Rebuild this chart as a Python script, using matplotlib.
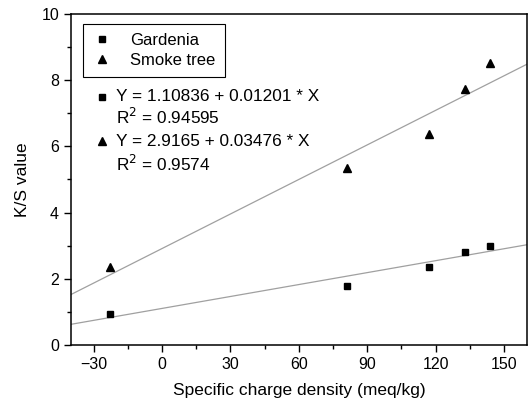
import matplotlib
matplotlib.use('Agg')
import matplotlib.pyplot as plt
import numpy as np
from matplotlib.ticker import MultipleLocator

plt.rcParams['font.family'] = ['Liberation Sans', 'DejaVu Sans']

# data
charge = [-23, 81, 117, 133, 144]
gardenia = [0.94, 1.80, 2.35, 2.81, 2.98]
smoke_tree = [2.37, 5.34, 6.37, 7.73, 8.51]

# fitted lines as given in the chart
fit_g = (1.10836, 0.01201, 0.94595)
fit_s = (2.9165, 0.03476, 0.9574)

fig = plt.figure(figsize=(5.29, 4.07), dpi=100)
ax = fig.add_axes([0.134, 0.152, 0.862, 0.814])

xx = np.array([-40, 160])
ax.plot(xx, fit_g[0] + fit_g[1] * xx, color='#a0a0a0', lw=0.9)
ax.plot(xx, fit_s[0] + fit_s[1] * xx, color='#a0a0a0', lw=0.9)
g, = ax.plot(charge, gardenia, 's', color='black', ms=4.8, label='Gardenia')
s, = ax.plot(charge, smoke_tree, '^', color='black', ms=6, label='Smoke tree')

ax.set_xlim(-40, 160)
ax.set_ylim(0, 10)
ax.xaxis.set_major_locator(MultipleLocator(30))
ax.xaxis.set_minor_locator(MultipleLocator(15))
ax.yaxis.set_major_locator(MultipleLocator(2))
ax.yaxis.set_minor_locator(MultipleLocator(1))
ax.tick_params(which='both', direction='out', labelsize=11.5, top=False, right=False)
ax.tick_params(which='major', length=5, width=1)
ax.tick_params(which='minor', length=3, width=1)
for sp in ax.spines.values():
    sp.set_linewidth(1.1)

ax.set_xlabel('Specific charge density (meq/kg)', fontsize=12.5, labelpad=8)
ax.set_ylabel('K/S value', fontsize=12.5, labelpad=8)

leg = ax.legend(handles=[g, s], loc='upper left', bbox_to_anchor=(0.026, 0.97),
                borderaxespad=0, fontsize=12, fancybox=False, edgecolor='black',
                framealpha=1, handletextpad=1.1, borderpad=0.55, labelspacing=0.3,
                handlelength=1.2)
leg.get_frame().set_linewidth(0.8)

# equation annotations
ax.plot(-26.2, 7.49, 's', color='black', ms=4.5)
ax.text(-20, 7.49, 'Y = %.5f + %.5f * X' % (fit_g[0], fit_g[1]), fontsize=12.4, va='center')
ax.text(-20, 6.88, r'R$^2$ = %.5f' % fit_g[2], fontsize=12.4, va='center')
ax.plot(-26.2, 6.15, '^', color='black', ms=5.5)
ax.text(-20, 6.15, 'Y = %.4f + %.5f * X' % (fit_s[0], fit_s[1]), fontsize=12.4, va='center')
ax.text(-20, 5.46, r'R$^2$ = %.4f' % fit_s[2], fontsize=12.4, va='center')

fig.savefig('out.png', dpi=100)
